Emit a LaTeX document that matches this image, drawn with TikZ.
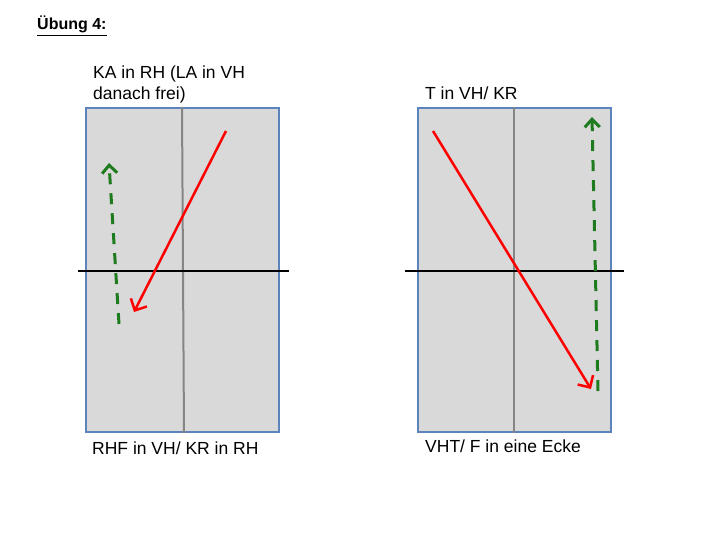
\documentclass[tikz,border=0pt]{standalone}
\usepackage{fontspec}
\setmainfont{Liberation Sans}
\usetikzlibrary{arrows.meta, positioning, calc}
\definecolor{panelgray}{HTML}{D9D9D9}
\definecolor{panelblue}{HTML}{5B84BC}
\definecolor{axisgray}{HTML}{858585}
\definecolor{movegreen}{HTML}{1E7B1E}

\begin{document}
\begin{tikzpicture}[x=1pt, y=-1pt,
            panel/.style={draw=panelblue, fill=panelgray, line width=2pt, minimum width=193pt, minimum height=324pt, inner sep=0pt},
            midline/.style={axisgray, line width=2pt},
            crossline/.style={black, line width=2pt},
            redmove/.style={red, line width=2.5pt, -{Straight Barb[length=9pt, width=18pt]}},
            greenmove/.style={movegreen, line width=3pt, dash pattern=on 11pt off 9pt, -{Straight Barb[length=8pt, width=15pt]}},
            label/.style={anchor=base west, inner sep=0pt, font=\fontsize{17.5}{21}\selectfont}
        ]
        \useasboundingbox (0,0) rectangle (720,540);

        % Title
        \node[anchor=base west, inner sep=0pt, font=\fontsize{16}{19}\selectfont\bfseries] (title) at (37,30) {\underline{Übung 4:}};

        % Left panel
        \node[panel] (L) at (182,270) {};
        \draw[midline] (L.north) -- ($(L.south)+(2,0)$);
        \coordinate (Lw) at (78,271);
        \coordinate (Le) at (289,271);
        \draw[crossline] (Lw) -- (Le);
        \node[label] (Ltop1) at (93,79) {KA in RH (LA in VH};
        \node[label] (Ltop2) at (93,100) {danach frei)};
        \node[label] (Lbot) at (92,454) {RHF in VH/ KR in RH};

        % Right panel
        \node[panel] (R) at (514,270) {};
        \draw[midline] (R.north) -- (R.south);
        \coordinate (Rw) at (405,271);
        \coordinate (Re) at (624,271);
        \draw[crossline] (Rw) -- (Re);
        \node[label] (Rtop) at (425,100) {T in VH/ KR};
        \node[label] (Rbot) at (425,452) {VHT/ F in eine Ecke};

        % Moves
        \coordinate (Lr1) at (226,131);
        \coordinate (Lr2) at (134,312);
        \coordinate (Lg1) at (119,324);
        \coordinate (Lg2) at (109,163);
        \coordinate (Rr1) at (433,131);
        \coordinate (Rr2) at (591,389);
        \coordinate (Rg1) at (598,391);
        \coordinate (Rg2) at (592,117);
        \draw[redmove] (Lr1) -- (Lr2);
        \draw[greenmove] (Lg1) -- (Lg2);
        \draw[redmove] (Rr1) -- (Rr2);
        \draw[greenmove] (Rg1) -- (Rg2);
        \end{tikzpicture}
\end{document}
